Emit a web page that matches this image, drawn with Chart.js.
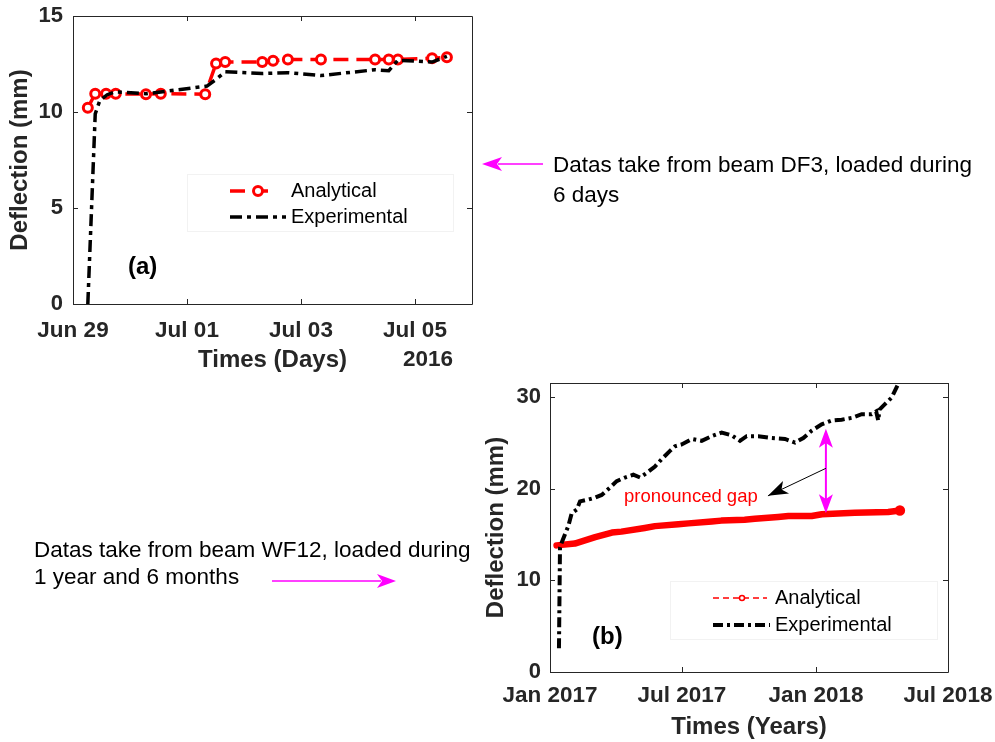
<!DOCTYPE html>
<html>
<head>
<meta charset="utf-8">
<script src="https://cdn.jsdelivr.net/npm/chart.js@4.4.1/dist/chart.umd.min.js"></script>
<style>
  html, body { margin: 0; padding: 0; background: #fff; }
  #page { position: relative; width: 995px; height: 742px; overflow: hidden; }
  #chartA { position: absolute; left: 0; top: 0; }
  #chartB { position: absolute; left: 480px; top: 370px; }
  #notes { position: absolute; left: 0; top: 0; pointer-events: none; }
</style>
</head>
<body>
<div id="page">
  <canvas id="chartA" width="480" height="380"></canvas>
  <canvas id="chartB" width="515" height="372"></canvas>
  <svg id="notes" width="995" height="742">
    <g font-family="Liberation Sans, Arial, sans-serif" font-size="22.5" fill="#000">
      <text x="553" y="172">Datas take from beam DF3, loaded during</text>
      <text x="553" y="202">6 days</text>
      <text x="34" y="557">Datas take from beam WF12, loaded during</text>
      <text x="34" y="584">1 year and 6 months</text>
    </g>
    <line x1="543" y1="164" x2="498" y2="164" stroke="#ff00ff" stroke-width="1.5"/>
    <path d="M482,164 L502,157 L497,164 L502,171 Z" fill="#ff00ff"/>
    <line x1="272" y1="581" x2="381" y2="581" stroke="#ff00ff" stroke-width="1.5"/>
    <path d="M396,581 L377,574 L382,581 L377,588 Z" fill="#ff00ff"/>
  </svg>
</div>
<script>
// (a) beam DF3 - x in days counted from Jun 29 2016
const dayTicksA = [0, 2, 4, 6];
const dayLabelsA = ['Jun 29', 'Jul 01', 'Jul 03', 'Jul 05'];
const defTicksA = [0, 5, 10, 15];
const anaDaysA = [0.26, 0.39, 0.58, 0.75, 1.28, 1.54, 2.32, 2.51, 2.67, 3.32, 3.51, 3.77, 4.35, 5.30, 5.54, 5.70, 6.30, 6.56];
const anaDefA  = [10.22, 10.95, 10.95, 10.95, 10.93, 10.95, 10.93, 12.53, 12.6, 12.6, 12.67, 12.73, 12.73, 12.74, 12.74, 12.74, 12.8, 12.85];
const expDaysA = [0.26, 0.39, 0.47, 0.6, 0.74, 1.28, 2.35, 2.51, 2.67, 3.32, 3.77, 4.35, 5.30, 5.54, 5.70, 6.30, 6.56];
const expDefA  = [0, 9.9, 10.6, 10.9, 11.05, 10.95, 11.35, 11.7, 12.1, 12.0, 12.05, 11.9, 12.2, 12.15, 12.7, 12.6, 12.9];

// (b) beam WF12 - x in days counted from Jan 1 2017
const dayTicksB = [0, 181, 365, 546];
const dayLabelsB = ['Jan 2017', 'Jul 2017', 'Jan 2018', 'Jul 2018'];
const defTicksB = [0, 10, 20, 30];
const anaDaysB = [9, 34, 62, 85, 98, 130, 144, 176, 190, 222, 235, 267, 281, 313, 327, 359, 373, 418, 464, 480];
const anaDefB  = [13.8, 14.0, 14.7, 15.2, 15.3, 15.7, 15.9, 16.1, 16.2, 16.4, 16.5, 16.6, 16.7, 16.9, 17.0, 17.0, 17.2, 17.35, 17.45, 17.6];
const expDaysB = [12.3, 13.7, 16.0, 25.1, 29.8, 36.6, 41.2, 52.5, 61.7, 70.9, 82.3, 91.5, 102.9, 114.3, 123.5, 132.6, 144.0, 153.2, 164.6, 171.5, 180.7, 194.4, 208.1, 221.8, 235.5, 249.2, 260.6, 269.8, 285.7, 304.1, 322.4, 336.1, 347.5, 359.0, 372.7, 386.4, 400.1, 413.9, 427.6, 441.3, 447.5, 450.3, 452.0, 459.5, 468.6, 477.7, 482.3];
const expDefB  = [2.6, 13.5, 14.1, 15.9, 17.3, 17.7, 18.6, 18.8, 19.0, 19.3, 20.1, 20.8, 21.2, 21.5, 21.2, 21.7, 22.4, 23.2, 24.1, 24.6, 24.8, 25.4, 25.2, 25.7, 26.1, 25.8, 25.2, 25.7, 25.7, 25.5, 25.4, 25.0, 25.5, 26.3, 27.0, 27.4, 27.5, 27.7, 28.1, 28.1, 28.4, 27.4, 28.6, 29.2, 29.9, 31.4, 32.3];

const FONT = '"Liberation Sans", Arial, Helvetica, sans-serif';
const AXIS = '#262626';
Chart.defaults.font.family = FONT;
Chart.defaults.color = AXIS;

const pts = (xs, ys) => xs.map((x, i) => ({ x: x, y: ys[i] }));

// matlab style box with inward ticks on all 4 sides
const framePlugin = {
    id: 'frame',
    afterDatasetsDraw(chart) {
        const { ctx, chartArea: a, scales } = chart;
        const len = 5;
        ctx.save();
        ctx.strokeStyle = AXIS;
        ctx.lineWidth = 1;
        ctx.beginPath();
        ctx.rect(Math.round(a.left) + 0.5, Math.round(a.top) + 0.5, Math.round(a.right - a.left), Math.round(a.bottom - a.top));
        scales.x.ticks.forEach(t => {
            const p = Math.round(scales.x.getPixelForValue(t.value)) + 0.5;
            ctx.moveTo(p, a.bottom); ctx.lineTo(p, a.bottom - len);
            ctx.moveTo(p, a.top); ctx.lineTo(p, a.top + len);
        });
        scales.y.ticks.forEach(t => {
            const p = Math.round(scales.y.getPixelForValue(t.value)) + 0.5;
            ctx.moveTo(a.left, p); ctx.lineTo(a.left + len, p);
            ctx.moveTo(a.right, p); ctx.lineTo(a.right - len, p);
        });
        ctx.stroke();
        ctx.restore();
    }
};

function drawLegend(ctx, area, box) {
    const L = area.left + box.dx, T = area.top + box.dy;
    ctx.save();
    ctx.fillStyle = '#fff';
    ctx.fillRect(L, T, box.w, box.h);
    ctx.strokeStyle = '#f2f2f2';
    ctx.lineWidth = 1;
    ctx.strokeRect(L + 0.5, T + 0.5, box.w, box.h);
    box.items.forEach(it => {
        const yy = T + it.dy;
        ctx.strokeStyle = it.color;
        ctx.lineWidth = it.width;
        ctx.setLineDash(it.dash);
        ctx.beginPath();
        ctx.moveTo(L + it.x0, yy);
        ctx.lineTo(L + it.x1, yy);
        ctx.stroke();
        ctx.setLineDash([]);
        if (it.marker) {
            ctx.fillStyle = '#fff';
            ctx.lineWidth = it.marker.bw;
            ctx.beginPath();
            ctx.arc(L + it.marker.x, yy, it.marker.r, 0, Math.PI * 2);
            ctx.fill();
            ctx.stroke();
        }
        ctx.fillStyle = '#000';
        ctx.font = '20px ' + FONT;
        ctx.textBaseline = 'middle';
        ctx.textAlign = 'left';
        ctx.fillText(it.text, L + box.textX, yy);
    });
    ctx.restore();
}

function arrowHead(ctx, x0, y0, x1, y1, len, half, back) {
    const ang = Math.atan2(y1 - y0, x1 - x0);
    const c = Math.cos(ang), s = Math.sin(ang);
    const bx = x1 - c * len, by = y1 - s * len;
    ctx.beginPath();
    ctx.moveTo(x1, y1);
    ctx.lineTo(bx - s * half, by + c * half);
    ctx.lineTo(x1 - c * len * back, y1 - s * len * back);
    ctx.lineTo(bx + s * half, by - c * half);
    ctx.closePath();
    ctx.fill();
}

function axisOpts(cfg) {
    return {
        type: 'linear',
        min: cfg.min,
        max: cfg.max,
        grid: { display: false, drawTicks: false },
        border: { display: false },
        afterBuildTicks: s => { s.ticks = cfg.ticks.map(v => ({ value: v })); },
        afterFit: s => {
            if (cfg.height) s.height = cfg.height;
            if (cfg.width) s.width = cfg.width;
            s.paddingLeft = 0; s.paddingRight = 0; s.paddingTop = 0; s.paddingBottom = 0;
        },
        ticks: {
            padding: cfg.pad,
            autoSkip: false,
            maxRotation: 0,
            color: AXIS,
            font: { size: cfg.tickSize, weight: 'bold' },
            callback: cfg.labels ? (v, i) => cfg.labels[i] : v => v
        },
        title: {
            display: true,
            text: cfg.title,
            color: AXIS,
            font: { size: 24, weight: 'bold', lineHeight: 1.2 },
            padding: cfg.titlePad
        }
    };
}

// ---- chart (a)
new Chart(document.getElementById('chartA'), {
    type: 'line',
    data: {
        datasets: [{
            label: 'Analytical',
            data: pts(anaDaysA, anaDefA),
            borderColor: '#ff0000',
            borderWidth: 3.5,
            borderDash: [15, 8],
            pointRadius: 4.5,
            pointBorderWidth: 3,
            pointBackgroundColor: '#fff',
            pointBorderColor: '#ff0000',
            order: 1
        }, {
            label: 'Experimental',
            data: pts(expDaysA, expDefA),
            borderColor: '#000',
            borderWidth: 3.5,
            borderDash: [12, 5, 4, 5],
            pointRadius: 0,
            order: 0
        }]
    },
    options: {
        responsive: false,
        animation: false,
        layout: { padding: { left: 0, right: 8, top: 16, bottom: 0 } },
        plugins: { legend: { display: false }, tooltip: { enabled: false } },
        scales: {
            x: axisOpts({ min: 0, max: 7, ticks: dayTicksA, labels: dayLabelsA, pad: 13, height: 76, tickSize: 22.5,
                title: 'Times (Days)', titlePad: { top: 0, bottom: 5 } }),
            y: axisOpts({ min: 0, max: 15, ticks: defTicksA, pad: 10, width: 73, tickSize: 22,
                title: 'Deflection (mm)', titlePad: { top: 6, bottom: 0 } })
        }
    },
    plugins: [framePlugin, {
        id: 'notesA',
        afterDatasetsDraw(chart) {
            const { ctx, chartArea, scales: { x, y } } = chart;
            ctx.save();
            ctx.fillStyle = '#000';
            ctx.font = 'bold 24px ' + FONT;
            ctx.textBaseline = 'middle';
            ctx.textAlign = 'left';
            ctx.fillText('(a)', x.getPixelForValue(0.965), y.getPixelForValue(1.93));
            ctx.fillStyle = AXIS;
            ctx.font = 'bold 22.5px ' + FONT;
            ctx.textAlign = 'center';
            ctx.fillText('2016', chartArea.right - 44, x.bottom - 20);
            ctx.restore();
            drawLegend(ctx, chartArea, {
                dx: 114, dy: 158, w: 266, h: 57, textX: 104,
                items: [
                    { text: 'Analytical', color: '#ff0000', width: 3.5, dash: [15, 8], x0: 43, x1: 88,
                      marker: { x: 71, r: 4.5, bw: 3 }, dy: 17 },
                    { text: 'Experimental', color: '#000', width: 3.5, dash: [12, 5, 4, 5], x0: 43, x1: 99, dy: 43 }
                ]
            });
        }
    }]
});

// ---- chart (b)
new Chart(document.getElementById('chartB'), {
    type: 'line',
    data: {
        datasets: [{
            label: 'Analytical',
            data: pts(anaDaysB, anaDefB),
            borderColor: '#ff0000',
            borderWidth: 6.5,
            borderCapStyle: 'round',
            borderJoinStyle: 'round',
            pointRadius: anaDaysB.map((d, i) => i === anaDaysB.length - 1 ? 2 : 0),
            pointBackgroundColor: '#ff0000',
            pointBorderColor: '#ff0000',
            order: 1
        }, {
            label: 'Experimental',
            data: pts(expDaysB, expDefB),
            borderColor: '#000',
            borderWidth: 4,
            borderDash: [10, 4, 3, 4],
            pointRadius: 0,
            order: 0
        }]
    },
    options: {
        responsive: false,
        animation: false,
        layout: { padding: { left: 0, right: 47, top: 13, bottom: 0 } },
        plugins: { legend: { display: false }, tooltip: { enabled: false } },
        scales: {
            x: axisOpts({ min: 0, max: 546, ticks: dayTicksB, labels: dayLabelsB, pad: 10, height: 70, tickSize: 22.5,
                title: 'Times (Years)', titlePad: { top: 0, bottom: 0 } }),
            y: axisOpts({ min: 0, max: 31.5, ticks: defTicksB, pad: 9, width: 70, tickSize: 22,
                title: 'Deflection (mm)', titlePad: { top: 2, bottom: 0 } })
        }
    },
    plugins: [framePlugin, {
        id: 'notesB',
        afterDatasetsDraw(chart) {
            const { ctx, chartArea, scales: { x, y } } = chart;
            const gx = x.getPixelForValue(378.5);
            const gTop = y.getPixelForValue(26.5), gBot = y.getPixelForValue(17.3);
            ctx.save();
            // magenta double arrow
            ctx.strokeStyle = '#ff00ff';
            ctx.fillStyle = '#ff00ff';
            ctx.lineWidth = 2;
            ctx.beginPath();
            ctx.moveTo(gx, gTop + 14);
            ctx.lineTo(gx, gBot - 14);
            ctx.stroke();
            arrowHead(ctx, gx, gBot, gx, gTop, 19, 7, 0.75);
            arrowHead(ctx, gx, gTop, gx, gBot, 19, 7, 0.75);
            // black pointer
            const ax0 = gx, ay0 = y.getPixelForValue(22.2);
            const ax1 = x.getPixelForValue(299), ay1 = y.getPixelForValue(19.2);
            ctx.strokeStyle = '#000';
            ctx.fillStyle = '#000';
            ctx.lineWidth = 1;
            ctx.beginPath();
            ctx.moveTo(ax0, ay0);
            ctx.lineTo(ax1, ay1);
            ctx.stroke();
            arrowHead(ctx, ax0, ay0, ax1, ay1, 20, 7, 0.75);
            // labels
            ctx.fillStyle = '#ff0000';
            ctx.font = '18.5px ' + FONT;
            ctx.textAlign = 'left';
            ctx.textBaseline = 'alphabetic';
            ctx.fillText('pronounced gap', x.getPixelForValue(101.5), y.getPixelForValue(18.5));
            ctx.fillStyle = '#000';
            ctx.font = 'bold 24px ' + FONT;
            ctx.textBaseline = 'middle';
            ctx.fillText('(b)', x.getPixelForValue(57.6), y.getPixelForValue(3.8));
            ctx.restore();
            drawLegend(ctx, chartArea, {
                dx: 120, dy: 198, w: 267, h: 58, textX: 105,
                items: [
                    { text: 'Analytical', color: '#ff0000', width: 1.5, dash: [6, 4], x0: 43, x1: 97,
                      marker: { x: 72, r: 2.5, bw: 1.5 }, dy: 17 },
                    { text: 'Experimental', color: '#000', width: 4, dash: [10, 4, 3, 4], x0: 43, x1: 100, dy: 44 }
                ]
            });
        }
    }]
});
</script>
</body>
</html>
